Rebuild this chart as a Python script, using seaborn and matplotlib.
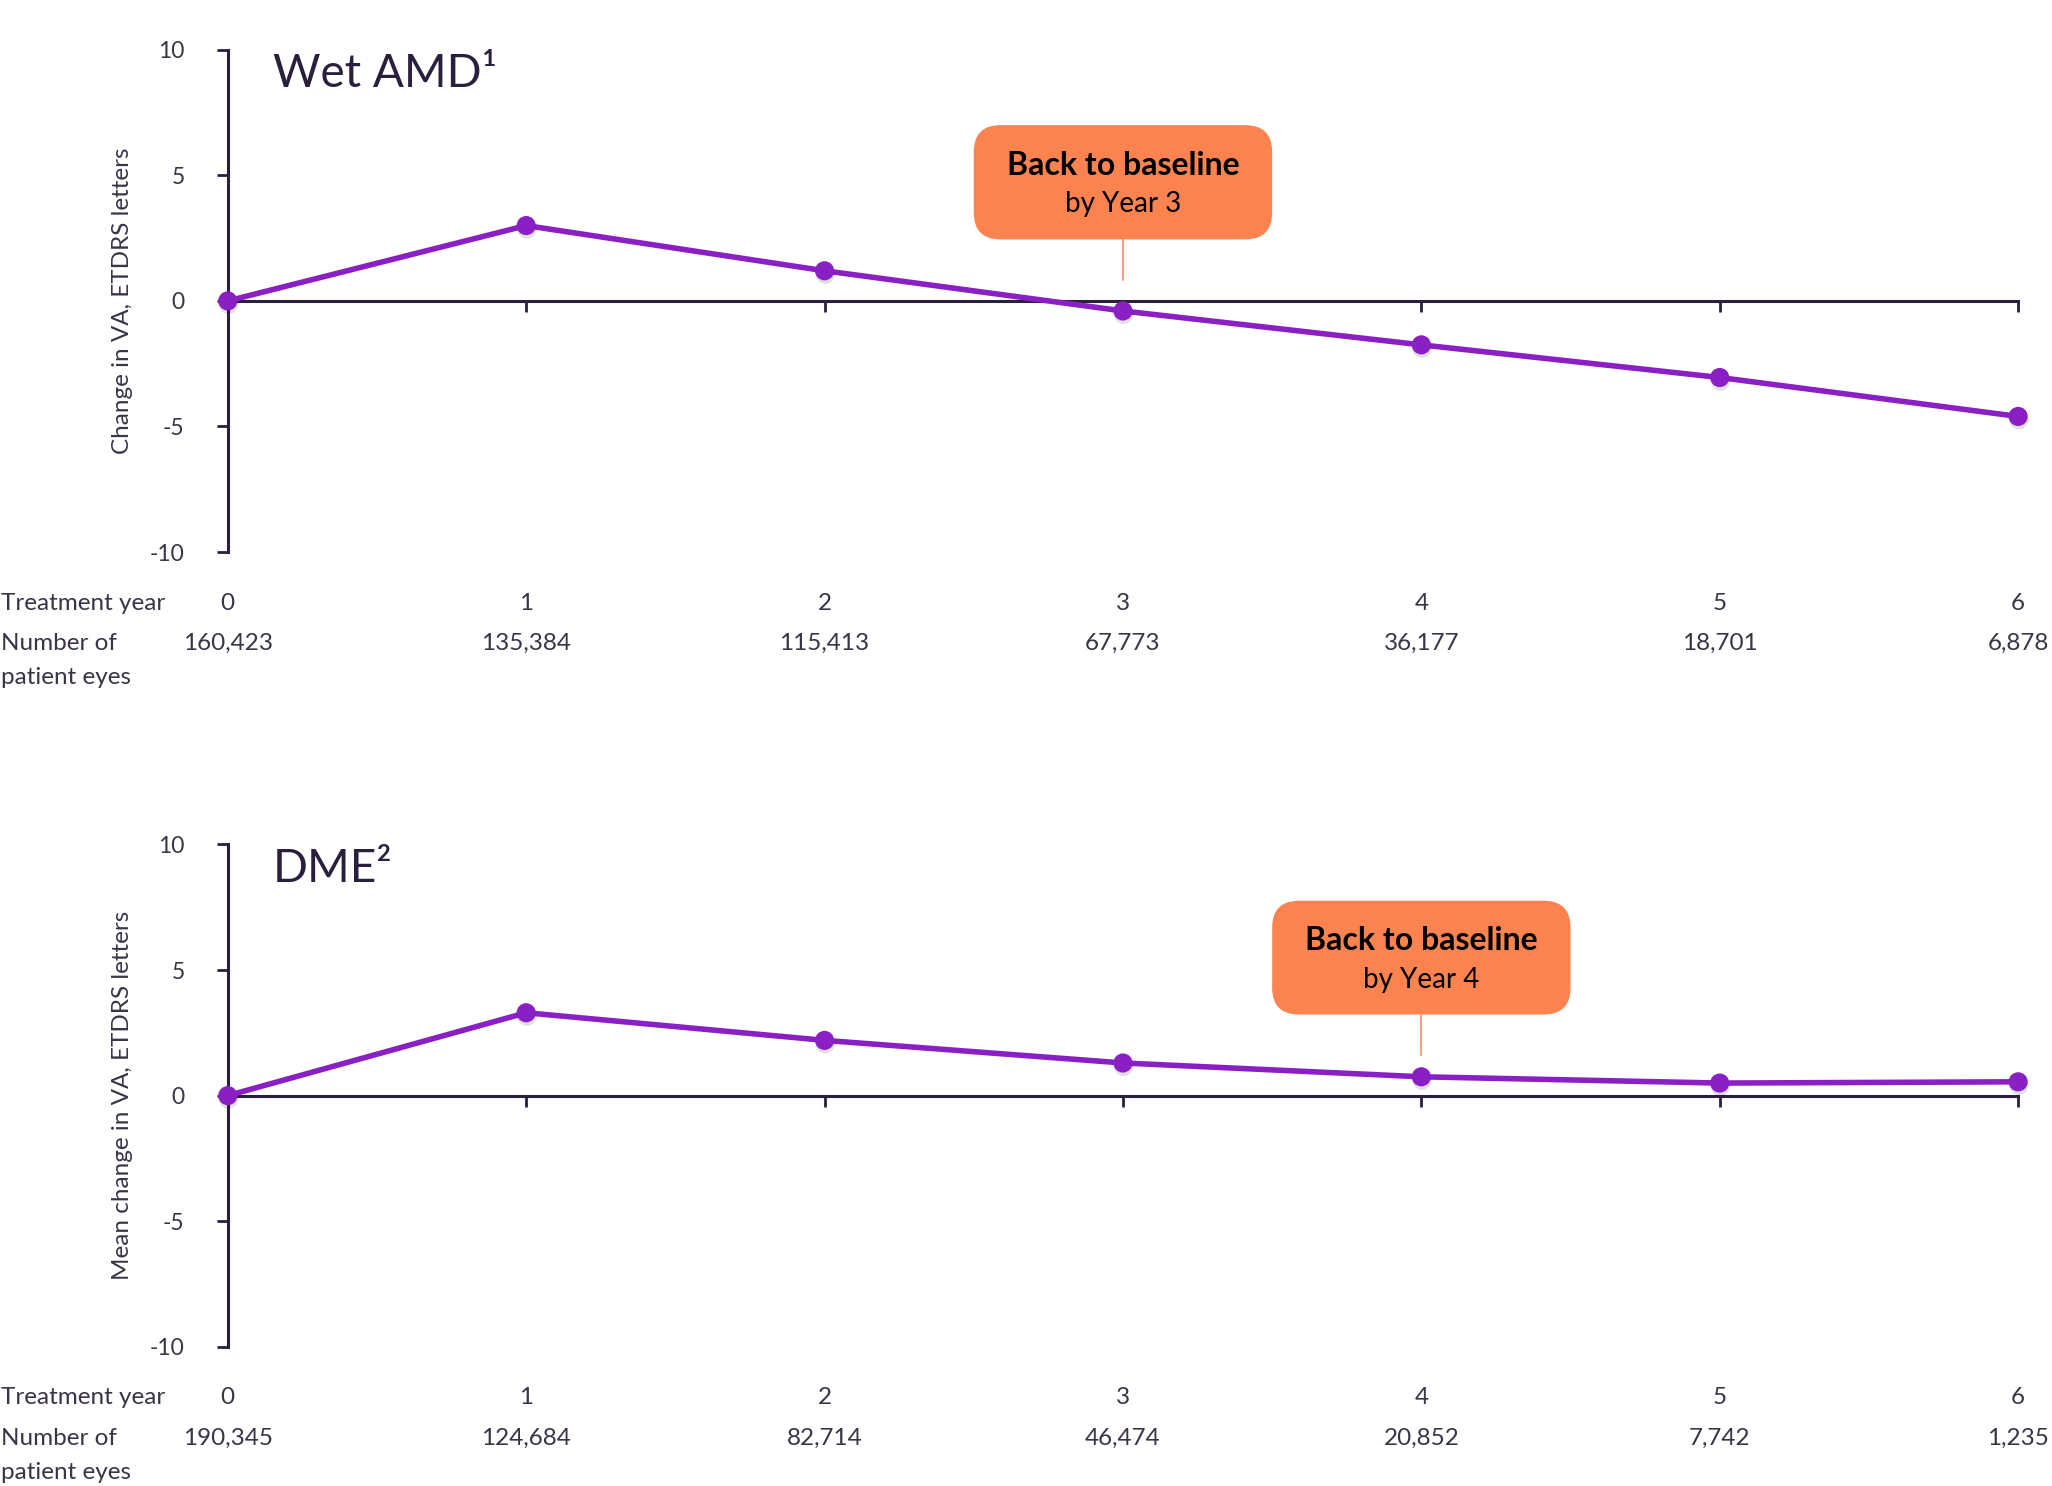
import matplotlib
matplotlib.use("Agg")
import matplotlib.pyplot as plt
import matplotlib.patheffects as pe
from matplotlib.patches import FancyBboxPatch
from matplotlib.transforms import blended_transform_factory
import seaborn as sns

# data
years = [0, 1, 2, 3, 4, 5, 6]
amd_change = [0.0, 3.0, 1.2, -0.4, -1.75, -3.05, -4.6]
amd_eyes = ["160,423", "135,384", "115,413", "67,773", "36,177", "18,701", "6,878"]
dme_change = [0.0, 3.3, 2.2, 1.3, 0.75, 0.5, 0.55]
dme_eyes = ["190,345", "124,684", "82,714", "46,474", "20,852", "7,742", "1,235"]
y_ticks = [-10, -5, 0, 5, 10]

sns.set_theme(style="white")
plt.rcParams["font.family"] = ["Lato", "DejaVu Sans"]
plt.rcParams["axes.unicode_minus"] = False

DARK = "#2a1f3d"
TEXT = "#3b3447"
PURPLE = "#8a1fc4"
ORANGE = "#fb834f"
STEM = "#f2a27f"

fig = plt.figure(figsize=(20.52, 14.86), dpi=100)
ax_top = fig.add_axes([0.111, 0.6285, 0.8725, 0.338])
ax_bot = fig.add_axes([0.111, 0.0937, 0.8725, 0.338])


def draw_panel(ax, values, eyes, title, ylabel, callout_year, box_top, box_bottom, stem_end):
    sns.lineplot(x=years, y=values, ax=ax, color=PURPLE, linewidth=4, clip_on=False, zorder=3)
    pts = sns.scatterplot(x=years, y=values, ax=ax, color=PURPLE, s=190, linewidth=0,
                          clip_on=False, zorder=4)
    pts.collections[-1].set_path_effects([
        pe.SimplePatchShadow(offset=(0.5, -2.5), shadow_rgbFace="black", alpha=0.12),
        pe.Normal()])

    ax.set_xlim(0, 6)
    ax.set_ylim(-10, 10)
    ax.set_yticks(y_ticks)
    ax.set_yticklabels([str(t) for t in y_ticks])
    ax.set_xticks(years)
    ax.set_xticklabels([])

    for side in ["top", "right"]:
        ax.spines[side].set_visible(False)
    ax.spines["bottom"].set_position(("data", 0))
    for side in ["left", "bottom"]:
        ax.spines[side].set_color(DARK)
        ax.spines[side].set_linewidth(2.2)
    ax.tick_params(axis="y", direction="out", length=8, width=2, color=DARK,
                   labelsize=16.5, labelcolor=TEXT, pad=23, left=True)
    ax.tick_params(axis="x", direction="out", length=8, width=2, color=DARK, bottom=True)

    ax.set_ylabel(ylabel, fontsize=17.5, color=TEXT)
    ax.yaxis.set_label_coords(-0.053, 0.5)

    ax.text(0.025, 0.925, title, transform=ax.transAxes, fontsize=33, color=DARK,
            ha="left", va="baseline")

    # rows under the axis
    tr = blended_transform_factory(ax.transData, ax.transAxes)
    trf = blended_transform_factory(fig.transFigure, ax.transAxes)
    for x, n in zip(years, eyes):
        ax.text(x, -0.102, str(x), transform=tr, ha="center", va="center",
                fontsize=17.5, color=TEXT, clip_on=False)
        ax.text(x, -0.182, n, transform=tr, ha="center", va="center",
                fontsize=17.5, color=TEXT, clip_on=False)
    ax.text(0.0005, -0.102, "Treatment year", transform=trf, ha="left", va="center",
            fontsize=17.5, color=TEXT)
    ax.text(0.0005, -0.182, "Number of", transform=trf, ha="left", va="center",
            fontsize=17.5, color=TEXT)
    ax.text(0.0005, -0.25, "patient eyes", transform=trf, ha="left", va="center",
            fontsize=17.5, color=TEXT)

    # callout box
    box = FancyBboxPatch((callout_year - 0.5, box_bottom), 1.0, box_top - box_bottom,
                         boxstyle="round,pad=0,rounding_size=0.09",
                         mutation_aspect=11.9, facecolor=ORANGE, edgecolor="none",
                         zorder=5, clip_on=False)
    ax.add_patch(box)
    ax.plot([callout_year, callout_year], [box_bottom, stem_end], color=STEM,
            linewidth=1.5, zorder=2)
    mid = (box_top + box_bottom) / 2
    ax.text(callout_year, mid + 0.68, "Back to baseline", ha="center", va="center",
            fontsize=23, fontweight="bold", color="black", zorder=6)
    ax.text(callout_year, mid - 0.88, f"by Year {callout_year}", ha="center", va="center",
            fontsize=20, color="black", zorder=6)


draw_panel(ax_top, amd_change, amd_eyes, "Wet AMD¹", "Change in VA, ETDRS letters",
           3, 7.0, 2.45, 0.83)
draw_panel(ax_bot, dme_change, dme_eyes, "DME²", "Mean change in VA, ETDRS letters",
           4, 7.76, 3.23, 1.6)

fig.savefig("out.png", dpi=100, facecolor="white")
